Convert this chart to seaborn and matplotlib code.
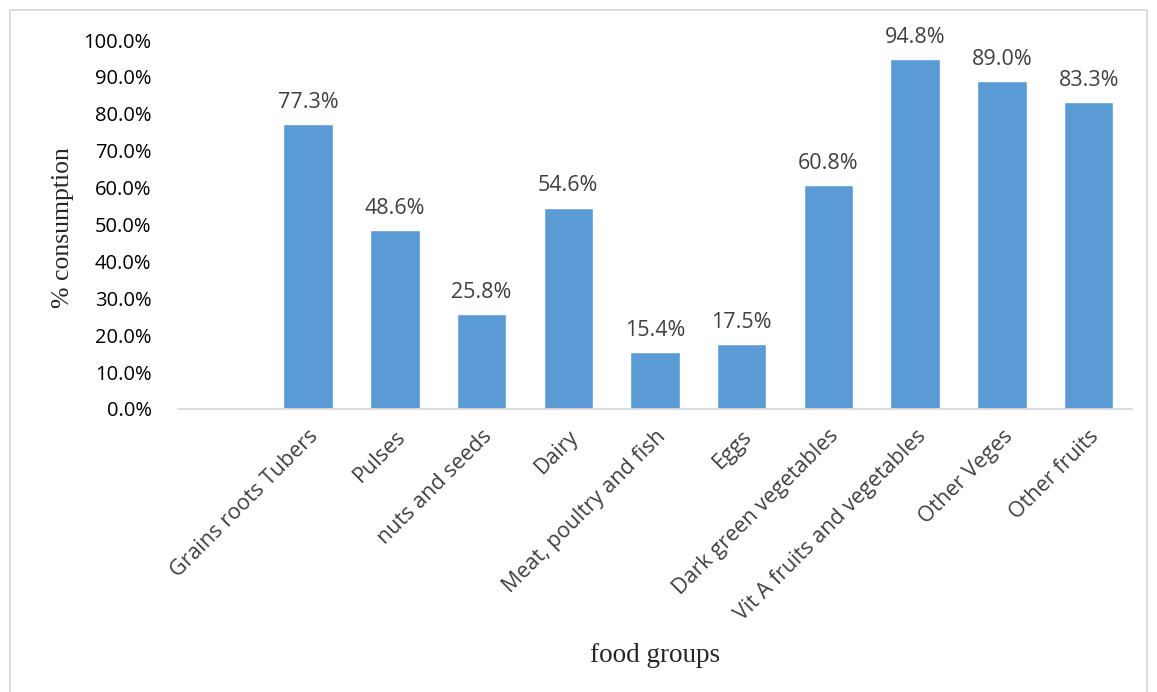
import matplotlib
matplotlib.use("Agg")
import matplotlib.pyplot as plt
import seaborn as sns
import pandas as pd
from matplotlib.patches import Rectangle

categories = ["Grains roots Tubers", "Pulses", "nuts and seeds", "Dairy",
              "Meat, poultry and fish", "Eggs", "Dark green vegetables",
              "Vit A fruits and vegetables", "Other Veges", "Other fruits"]
values = [77.3, 48.6, 25.8, 54.6, 15.4, 17.5, 60.8, 94.8, 89.0, 83.3]
yticks = [0, 10, 20, 30, 40, 50, 60, 70, 80, 90, 100]

sns.set_style("white")
plt.rcParams['font.family'] = ['Open Sans', 'DejaVu Sans']

df = pd.DataFrame({"cat": categories, "val": values})
order = [""] + categories

fig = plt.figure(figsize=(11.57, 6.92), dpi=100)
ax = fig.add_axes([178/1157, 1-409/692, (1132-178)/1157, (409-40)/692])

sns.barplot(data=df, x="cat", y="val", order=order, color="#5B9BD5",
            width=0.57, saturation=1, ax=ax)

ax.set_ylim(0, 100)
ax.set_xlim(-0.5, len(order)-0.5)
ax.set_yticks(yticks)
ax.set_yticklabels([f"{v:.1f}%" for v in yticks], fontsize=14.5, color="black")
ax.tick_params(axis='y', length=0, pad=19)
ax.tick_params(axis='x', length=0, pad=12)
ax.set_xticks(range(len(order)))
ax.set_xticklabels(order, rotation=45, ha='right', rotation_mode='anchor',
                   fontsize=15.5, color="#404040")

for s in ["top", "right", "left"]:
    ax.spines[s].set_visible(False)
ax.spines["bottom"].set_color("#D9D9D9")
ax.spines["bottom"].set_linewidth(1.3)

for i, v in enumerate(values):
    ax.text(i+1, v + 3.0, f"{v:.1f}%", ha='center', va='bottom',
            fontsize=15.5, color="#404040")

ax.set_xlabel("")
ax.set_ylabel("")
fig.text(655/1157, 1-655/692, "food groups", ha='center', va='center',
         fontsize=19.5, family='Liberation Serif')
fig.text(63/1157, 1-228/692, "% consumption", ha='center', va='center',
         fontsize=18.5, family='Liberation Serif', rotation=90)

fig.patches.append(Rectangle((10/1157, -0.01), (1147-10)/1157, 1-10/692+0.01,
                             transform=fig.transFigure, fill=False,
                             edgecolor="#D9D9D9", linewidth=1.3))

fig.savefig("out.png", dpi=100)
